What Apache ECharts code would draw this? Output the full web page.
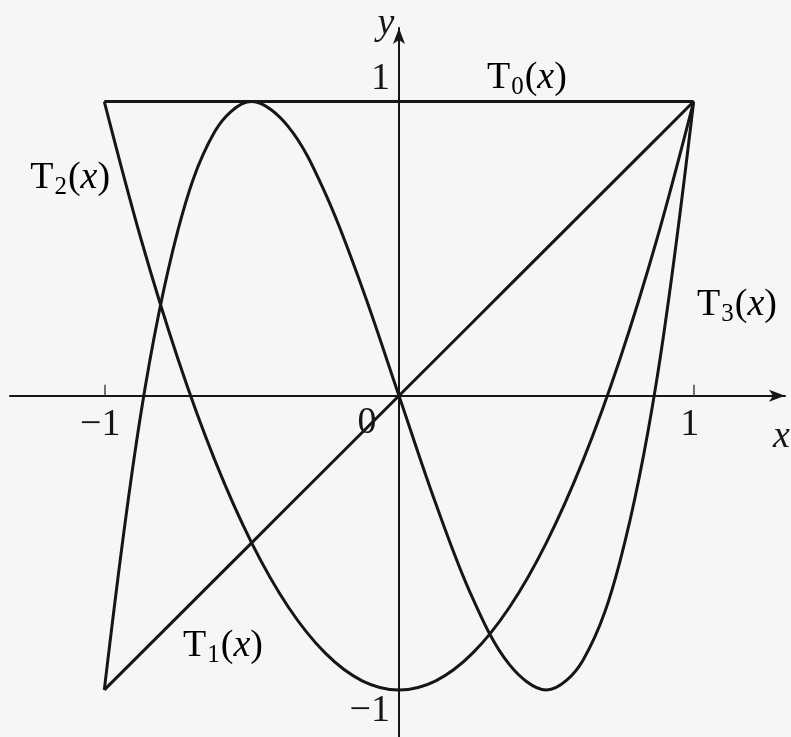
<!DOCTYPE html>
<html>
<head>
<meta charset="utf-8">
<title>Chebyshev polynomials T0–T3</title>
<script src="https://cdn.jsdelivr.net/npm/echarts@6/dist/echarts.min.js"></script>
<style>
  html, body { margin: 0; padding: 0; background: #f6f6f5; }
  #chart { width: 791px; height: 737px; }
</style>
</head>
<body>
<div id="chart"></div>
<script>
// Sample abscissae on [-1, 1]
const xValues = [-1, -0.875, -0.75, -0.625, -0.5, -0.375, -0.25, -0.125, 0,
                 0.125, 0.25, 0.375, 0.5, 0.625, 0.75, 0.875, 1];

// Polynomial values at the sample points
const t0Values = [1, 1, 1, 1, 1, 1, 1, 1, 1, 1, 1, 1, 1, 1, 1, 1, 1];
const t1Values = [-1, -0.875, -0.75, -0.625, -0.5, -0.375, -0.25, -0.125, 0,
                  0.125, 0.25, 0.375, 0.5, 0.625, 0.75, 0.875, 1];
const t2Values = [1, 0.531, 0.125, -0.219, -0.5, -0.719, -0.875, -0.969, -1,
                  -0.969, -0.875, -0.719, -0.5, -0.219, 0.125, 0.531, 1];
const t3Values = [-1, -0.055, 0.563, 0.898, 1, 0.914, 0.688, 0.367, 0,
                  -0.367, -0.688, -0.914, -1, -0.898, -0.563, 0.055, 1];

const seriesNames = ['T0', 'T1', 'T2', 'T3'];
const seriesSubs = ['0', '1', '2', '3'];

// Tick labels
const xTickValues = [-1, 1];
const xTickLabels = ['\u22121', '1'];
const yTickValues = [1, -1];
const yTickLabels = ['1', '\u22121'];
const originLabel = '0';
const xAxisName = 'x';
const yAxisName = 'y';

// ---- layout / style ----
const INK = '#161616';
const SERIF = '"Liberation Serif", "DejaVu Serif", serif';
const FONT = 38;

// curve label anchors, in data coordinates
const curveLabelAt = [
  [0.434, 1.08],   // T0
  [-0.597, -0.851],// T1
  [-1.116, 0.739], // T2
  [1.147, 0.308]   // T3
];

function pairs(ys) { return xValues.map((x, i) => [x, ys[i]]); }
const allValues = [t0Values, t1Values, t2Values, t3Values];

const chart = echarts.init(document.getElementById('chart'), null, { renderer: 'canvas' });

const lineStyle = { color: INK, width: 3 };

chart.setOption({
  backgroundColor: '#f6f6f5',
  animation: false,
  grid: { left: 10, right: 6, top: 28, bottom: 0, containLabel: false, outerBoundsMode: 'none' },
  xAxis: {
    type: 'value', min: -1.32, max: 1.31,
    axisLine: { onZero: true, symbol: ['none', 'arrow'], symbolSize: [9, 16],
                lineStyle: { color: INK, width: 2 } },
    axisTick: { show: true, inside: true, length: 11, customValues: xTickValues,
                lineStyle: { color: '#444', width: 1.5 } },
    axisLabel: { show: false },
    splitLine: { show: false }
  },
  yAxis: {
    type: 'value', min: -1.16, max: 1.25,
    axisLine: { onZero: true, symbol: ['none', 'arrow'], symbolSize: [9, 16],
                lineStyle: { color: INK, width: 2 } },
    axisTick: { show: false },
    axisLabel: { show: false },
    splitLine: { show: false }
  },
  series: allValues.map((vals, i) => ({
    name: seriesNames[i],
    type: 'line',
    data: pairs(vals),
    smooth: i >= 2 ? 0.35 : false,
    showSymbol: false,
    lineStyle: lineStyle,
    z: 3
  }))
});

function px(x, y) { return chart.convertToPixel({ gridIndex: 0 }, [x, y]); }

const richStyle = {
  t: { fontFamily: SERIF, fontSize: FONT, color: INK },
  s: { fontFamily: SERIF, fontSize: 25, color: INK, padding: [18, 1, 0, 1] },
  i: { fontFamily: SERIF, fontSize: FONT, fontStyle: 'italic', color: INK }
};

const graphics = [];

// curve labels such as T₀(x)
seriesNames.forEach((name, i) => {
  const p = px(curveLabelAt[i][0], curveLabelAt[i][1]);
  graphics.push({
    type: 'text', x: p[0], y: p[1], z: 10,
    style: {
      text: '{t|T}{s|' + seriesSubs[i] + '}{t|(}{i|x}{t|)}',
      rich: richStyle, align: 'center', verticalAlign: 'middle'
    }
  });
});

// x tick labels
xTickValues.forEach((v, i) => {
  const p = px(v, 0);
  graphics.push({
    type: 'text', x: p[0] - 4, y: p[1] + 29, z: 10,
    style: { text: xTickLabels[i], fontFamily: SERIF, fontSize: FONT, fill: INK,
             align: 'center', verticalAlign: 'middle' }
  });
});

// y tick labels
yTickValues.forEach((v, i) => {
  const p = px(0, v);
  graphics.push({
    type: 'text', x: p[0] - 9, y: p[1] + (v > 0 ? -23 : 21), z: 10,
    style: { text: yTickLabels[i], fontFamily: SERIF, fontSize: FONT, fill: INK,
             align: 'right', verticalAlign: 'middle' }
  });
});

// origin
(function () {
  const p = px(0, 0);
  graphics.push({
    type: 'text', x: p[0] - 32, y: p[1] + 27, z: 10,
    style: { text: originLabel, fontFamily: SERIF, fontSize: FONT, fill: INK,
             align: 'center', verticalAlign: 'middle' }
  });
})();

// axis names
(function () {
  const px0 = px(1.269, -0.14);
  graphics.push({
    type: 'text', x: px0[0], y: px0[1], z: 10,
    style: { text: xAxisName, fontFamily: SERIF, fontSize: FONT, fontStyle: 'italic',
             fill: INK, align: 'left', verticalAlign: 'middle' }
  });
  const py0 = px(0, 1.25);
  graphics.push({
    type: 'text', x: py0[0] - 13, y: py0[1] - 4, z: 10,
    style: { text: yAxisName, fontFamily: SERIF, fontSize: FONT, fontStyle: 'italic',
             fill: INK, align: 'center', verticalAlign: 'middle' }
  });
})();

chart.setOption({ graphic: graphics });
</script>
</body>
</html>
